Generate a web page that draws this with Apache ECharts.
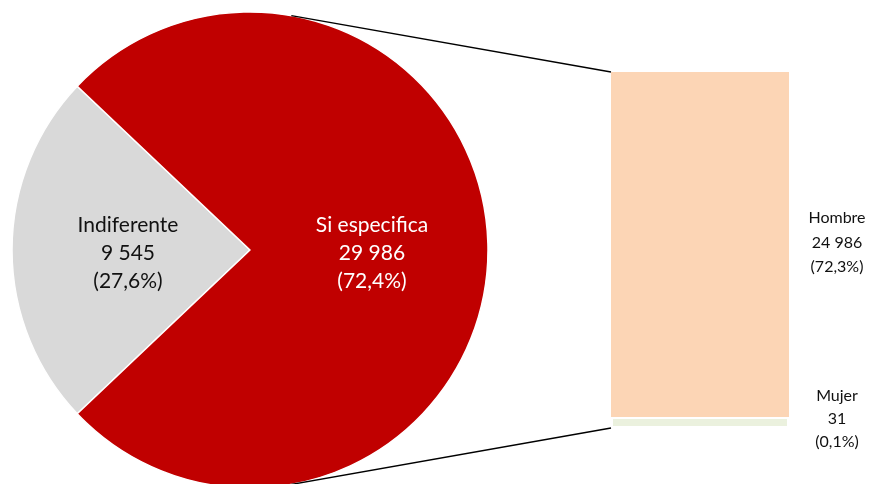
<!DOCTYPE html>
<html>
<head>
<meta charset="utf-8">
<script src="https://cdn.jsdelivr.net/npm/echarts@6/dist/echarts.min.js"></script>
<style>
html,body{margin:0;padding:0;background:#fff;}
#chart{width:877px;height:484px;}
</style>
</head>
<body>
<div id="chart"></div>
<script>
// ---- data ----
const pieNames = ['Indiferente', 'Si especifica'];
const pieValues = [9545, 29986];
const piePct = ['27,6%', '72,4%'];
const barNames = ['Mujer', 'Hombre'];
const barValues = [31, 24986];
const barPct = ['0,1%', '72,3%'];

// ---- layout / style ----
const W = 877, H = 484;
const cx = 250, cy = 250, R = 238;
const gLeft = 611, gWidth = 178, gTop = 72, gBottom = 56;
const FONT = 'Lato, "Open Sans", sans-serif';
const pieColors = ['#D9D9D9', '#C00000'];
const pieLabelColors = ['#111111', '#ffffff'];
const barColors = ['#EBF1DE', '#FCD5B5'];

function fmt(n) { return String(n).replace(/\B(?=(\d{3})+(?!\d))/g, ' '); }

const pieTotal = pieValues.reduce((a, b) => a + b, 0);
const startAngle = 180 + (pieValues[0] / pieTotal) * 180;

const barTotal = barValues.reduce((a, b) => a + b, 0);

// connector endpoints derived from layout constants
const ang = 80 * Math.PI / 180;
const pTopX = cx + R * Math.cos(ang), pTopY = cy - R * Math.sin(ang);
const pBotX = pTopX, pBotY = cy + R * Math.sin(ang);
const barBottomY = H - gBottom;

const chart = echarts.init(document.getElementById('chart'), null, {renderer: 'canvas'});
chart.setOption({
  backgroundColor: '#ffffff',
  animation: false,
  textStyle: {fontFamily: FONT},
  grid: {left: gLeft, width: gWidth, top: gTop, bottom: gBottom},
  xAxis: {type: 'category', data: ['x'], show: false},
  yAxis: {type: 'value', min: 0, max: barTotal, show: false},
  series: [
    {
      type: 'pie',
      center: [cx, cy],
      radius: [0, R],
      startAngle: startAngle,
      clockwise: true,
      avoidLabelOverlap: false,
      itemStyle: {borderColor: '#ffffff', borderWidth: 1.5},
      label: {
        show: true,
        position: 'inside',
        fontFamily: FONT,
        fontSize: 21,
        lineHeight: 28,
        align: 'center',
        offset: [0, 3],
        formatter: p => p.name + '\n' + fmt(p.value) + '\n(' + piePct[p.dataIndex] + ')'
      },
      labelLine: {show: false},
      emphasis: {disabled: true},
      data: pieNames.map((n, i) => ({
        name: n, value: pieValues[i],
        itemStyle: {color: pieColors[i]},
        label: {color: pieLabelColors[i]}
      }))
    },
    {
      type: 'bar',
      name: barNames[0],
      stack: 's',
      barWidth: '100%',
      barMinHeight: 11,
      z: 4,
      itemStyle: {color: barColors[0], borderColor: '#ffffff', borderWidth: 2},
      label: {
        show: true, position: 'right', distance: 48, align: 'center',
        fontFamily: FONT, fontSize: 16, lineHeight: 23, color: '#111111',
        offset: [0, -4],
        formatter: () => barNames[0] + '\n' + fmt(barValues[0]) + '\n(' + barPct[0] + ')'
      },
      emphasis: {disabled: true},
      data: [barValues[0]]
    },
    {
      type: 'bar',
      name: barNames[1],
      stack: 's',
      barWidth: '100%',
      z: 2,
      itemStyle: {color: barColors[1]},
      label: {
        show: true, position: 'right', distance: 48, align: 'center',
        fontFamily: FONT, fontSize: 16, lineHeight: 24.5, color: '#111111',
        offset: [0, -7],
        formatter: () => barNames[1] + '\n' + fmt(barValues[1]) + '\n(' + barPct[1] + ')'
      },
      emphasis: {disabled: true},
      data: [barValues[1]]
    }
  ],
  graphic: [
    {type: 'line', silent: true, z: 10,
     shape: {x1: pTopX, y1: pTopY, x2: gLeft, y2: gTop},
     style: {stroke: '#000000', lineWidth: 1.5}},
    {type: 'line', silent: true, z: 10,
     shape: {x1: pBotX, y1: pBotY, x2: gLeft, y2: barBottomY},
     style: {stroke: '#000000', lineWidth: 1.5}}
  ]
});
</script>
</body>
</html>
